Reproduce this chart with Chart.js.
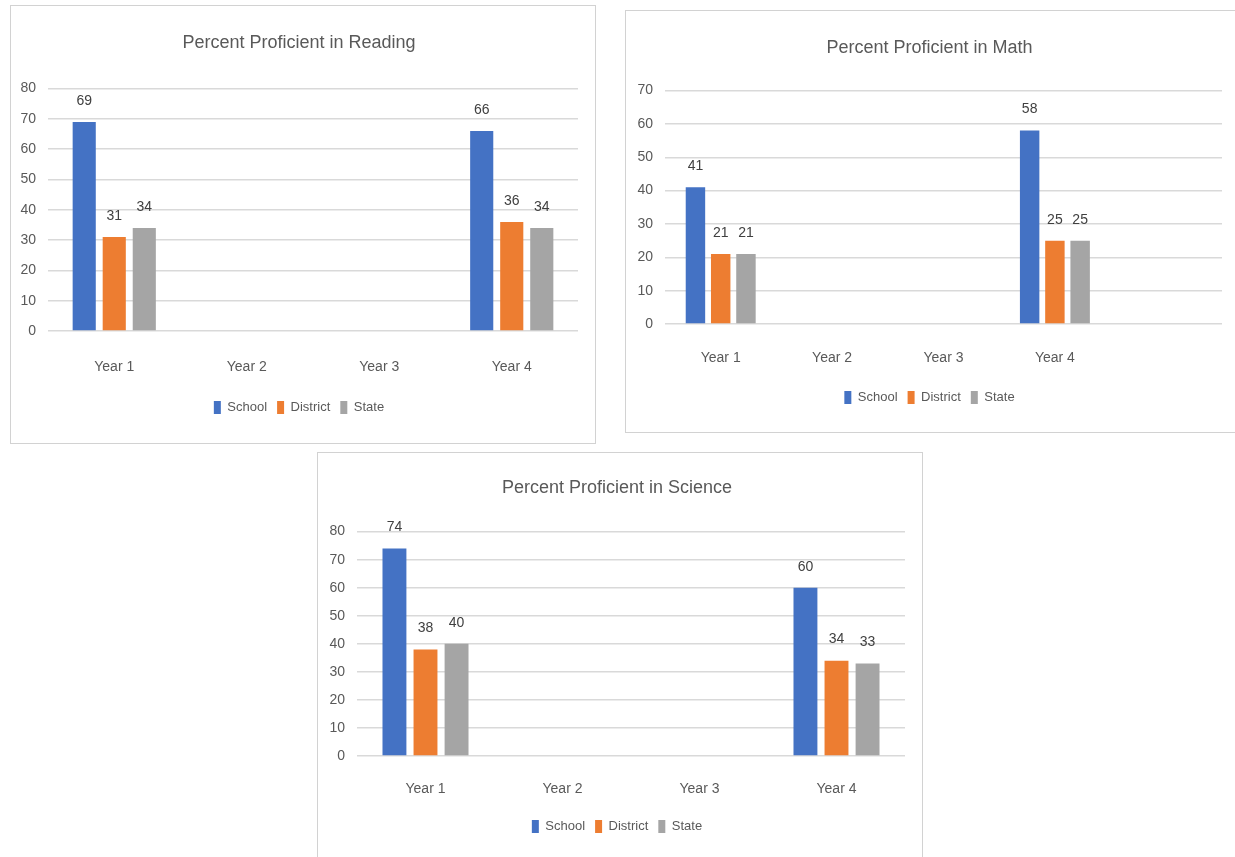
<!DOCTYPE html>
<html>
<head>
<meta charset="utf-8">
<script src="https://cdn.jsdelivr.net/npm/chart.js@4.4.0/dist/chart.umd.min.js"></script>
<style>
  html, body { margin: 0; padding: 0; background: #fff; }
  body { width: 1235px; height: 857px; overflow: hidden; position: relative; }
  .panel { position: absolute; border: 1px solid #d2d2d2; background: #fff; box-sizing: border-box; }
  .panel canvas { display: block; }
</style>
</head>
<body>
<div class="panel" style="left:10px; top:5px; width:586px; height:439px;"><canvas id="cvReading" width="584" height="437"></canvas></div>
<div class="panel" style="left:625px; top:10px; width:612px; height:423px;"><canvas id="cvMath" width="610" height="421"></canvas></div>
<div class="panel" style="left:317px; top:452px; width:606px; height:430px;"><canvas id="cvScience" width="604" height="428"></canvas></div>
<script>
/* ---- data ---- */
const readingLabels   = ['Year 1', 'Year 2', 'Year 3', 'Year 4'];
const readingSchool   = [69, null, null, 66];
const readingDistrict = [31, null, null, 36];
const readingState    = [34, null, null, 34];

const mathLabels   = ['Year 1', 'Year 2', 'Year 3', 'Year 4', ''];
const mathSchool   = [41, null, null, 58, null];
const mathDistrict = [21, null, null, 25, null];
const mathState    = [21, null, null, 25, null];

const scienceLabels   = ['Year 1', 'Year 2', 'Year 3', 'Year 4'];
const scienceSchool   = [74, null, null, 60];
const scienceDistrict = [38, null, null, 34];
const scienceState    = [40, null, null, 33];

const seriesNames = ['School', 'District', 'State'];
const seriesColors = ['#4472C4', '#ED7D31', '#A5A5A5'];

Chart.defaults.font.family = "'Liberation Sans', sans-serif";
Chart.defaults.color = '#595959';

// value labels above each bar
const valueLabels = {
  id: 'valueLabels',
  afterDatasetsDraw(chart) {
    const ctx = chart.ctx;
    ctx.save();
    ctx.font = "14px 'Liberation Sans', sans-serif";
    ctx.fillStyle = '#404040';
    ctx.textAlign = 'center';
    ctx.textBaseline = 'middle';
    chart.data.datasets.forEach((ds, i) => {
      const meta = chart.getDatasetMeta(i);
      meta.data.forEach((bar, j) => {
        const v = ds.data[j];
        if (v === null || v === undefined) return;
        ctx.fillText(String(v), bar.x, bar.y - 21);
      });
    });
    ctx.restore();
  }
};

function makeChart(id, title, labels, series, yMax, g) {
  const cv = document.getElementById(id);
  return new Chart(cv.getContext('2d'), {
    type: 'bar',
    data: {
      labels,
      datasets: series.map((d, i) => ({
        label: seriesNames[i], data: d,
        backgroundColor: seriesColors[i], borderWidth: 0,
        categoryPercentage: 0.68, barPercentage: 0.77
      }))
    },
    options: {
      responsive: false, animation: false,
      layout: { padding: { top: 0, left: g.padLeft, right: g.padRight, bottom: g.padBottom } },
      plugins: {
        title: {
          display: true, text: title, color: '#595959',
          font: { size: 18, weight: 'normal' },
          padding: { top: g.titleTop, bottom: g.titleBottom }
        },
        legend: {
          position: 'bottom',
          labels: { boxWidth: 7, boxHeight: 13, padding: 10, color: '#595959', font: { size: 13 } }
        },
        tooltip: { enabled: false }
      },
      scales: {
        x: {
          grid: { display: false }, border: { display: false },
          ticks: { color: '#595959', font: { size: 14 }, padding: g.xPad },
          afterFit: s => { s.height = g.xHeight; }
        },
        y: {
          min: 0, max: yMax,
          ticks: { stepSize: 10, color: '#595959', font: { size: 14 }, padding: 12 },
          grid: { color: '#d9d9d9', lineWidth: 1.5, drawTicks: false },
          border: { display: false },
          afterFit: s => { s.width = 28; }
        }
      }
    },
    plugins: [valueLabels]
  });
}

makeChart('cvReading', 'Percent Proficient in Reading', readingLabels,
  [readingSchool, readingDistrict, readingState], 80,
  { padLeft: 9, padRight: 17, padBottom: 19, titleTop: 26, titleBottom: 35, xPad: 20, xHeight: 60 });

makeChart('cvMath', 'Percent Proficient in Math', mathLabels,
  [mathSchool, mathDistrict, mathState], 70,
  { padLeft: 11, padRight: 14, padBottom: 18, titleTop: 26, titleBottom: 32, xPad: 18, xHeight: 57 });

makeChart('cvScience', 'Percent Proficient in Science', scienceLabels,
  [scienceSchool, scienceDistrict, scienceState], 80,
  { padLeft: 11, padRight: 17, padBottom: 38, titleTop: 24, titleBottom: 33, xPad: 17, xHeight: 54 });
</script>
</body>
</html>
